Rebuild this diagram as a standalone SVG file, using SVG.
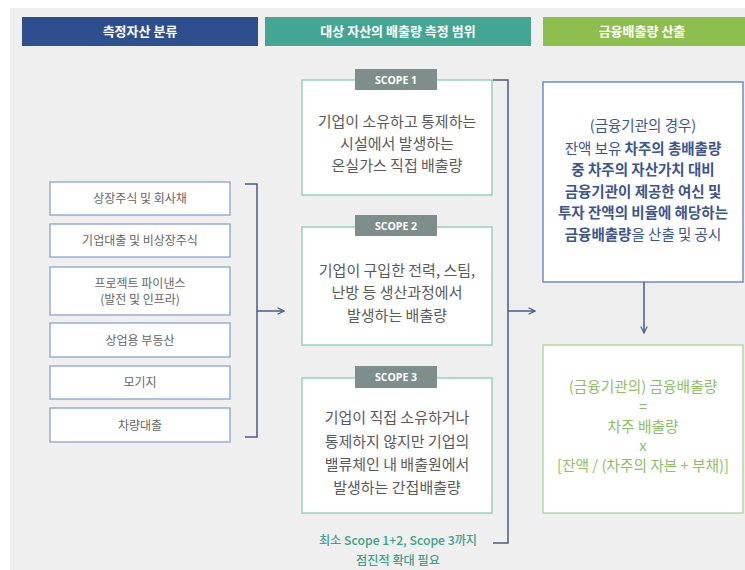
<svg xmlns="http://www.w3.org/2000/svg" width="745" height="570" viewBox="0 0 745 570">
<style>
text{font-family:"Noto Sans CJK KR","Noto Sans",sans-serif;text-anchor:middle}
.hd{fill:#fff;font-size:13px;font-weight:bold}
.lb{fill:#fff;stroke:#7d9ccb;stroke-width:1.2}
.lt{fill:#666;font-size:12px}
.sb{fill:#fff;stroke:#86cbb9;stroke-width:1.3}
.tab{fill:#7e8e8c}
.tt{fill:#fff;font-size:10.5px;font-weight:bold;font-family:"Open Sans","Liberation Sans",sans-serif}
.st{fill:#5a5a5a;font-size:15px}
.rt{fill:#3a5590;font-size:14.5px;font-weight:bold}
.nw{font-weight:normal}
.gt{fill:#8cc063;font-size:14.7px}
.ft{fill:#3fa08c;font-size:12.2px;font-weight:500}
.cn{fill:none;stroke:#4c5a88;stroke-width:1.5}
</style>
<defs>
<marker id="ah" viewBox="0 0 10 10" refX="9" refY="5" markerWidth="8" markerHeight="8" orient="auto" markerUnits="userSpaceOnUse">
<path d="M1,1 L9,5 L1,9" fill="none" stroke="#4c5a88" stroke-width="1.5"/>
</marker>
</defs>
<rect x="0" y="0" width="745" height="570" fill="#fff"/>
<rect x="10" y="8" width="735" height="562" fill="#efefef"/>

<g id="h1"><rect x="22" y="17" width="236" height="29" fill="#2e4f8e"/><text class="hd" x="140" y="36">측정자산 분류</text></g>
<g id="h2"><rect x="265" y="17" width="266" height="29" fill="#45a593"/><text class="hd" x="398" y="36">대상 자산의 배출량 측정 범위</text></g>
<g id="h3"><rect x="543" y="17" width="202" height="29" fill="#8dbf4f"/><text class="hd" x="642" y="36">금융배출량 산출</text></g>

<g id="a1"><rect class="lb" x="50" y="182" width="180" height="33"/><text class="lt" x="140" y="203">상장주식 및 회사채</text></g>
<g id="a2"><rect class="lb" x="50" y="224" width="180" height="33"/><text class="lt" x="140" y="245">기업대출 및 비상장주식</text></g>
<g id="a3"><rect class="lb" x="50" y="267" width="180" height="48"/><text class="lt" x="140" y="288">프로젝트 파이낸스</text><text class="lt" x="140" y="304">(발전 및 인프라)</text></g>
<g id="a4"><rect class="lb" x="50" y="323" width="180" height="34"/><text class="lt" x="140" y="345">상업용 부동산</text></g>
<g id="a5"><rect class="lb" x="50" y="366" width="180" height="33"/><text class="lt" x="140" y="387">모기지</text></g>
<g id="a6"><rect class="lb" x="50" y="408" width="180" height="34"/><text class="lt" x="140" y="430">차량대출</text></g>

<g id="s1"><rect class="sb" x="302" y="80" width="190" height="115"/><rect class="tab" x="355" y="69" width="82" height="21"/><text class="tt" x="396" y="83.5">SCOPE 1</text>
<text class="st" x="397" y="127">기업이 소유하고 통제하는</text><text class="st" x="397" y="149">시설에서 발생하는</text><text class="st" x="397" y="171">온실가스 직접 배출량</text></g>
<g id="s2"><rect class="sb" x="302" y="227" width="190" height="118"/><rect class="tab" x="355" y="215" width="82" height="21"/><text class="tt" x="396" y="229.5">SCOPE 2</text>
<text class="st" x="397" y="276">기업이 구입한 전력, 스팀,</text><text class="st" x="397" y="298">난방 등 생산과정에서</text><text class="st" x="397" y="321">발생하는 배출량</text></g>
<g id="s3"><rect class="sb" x="302" y="378" width="190" height="135"/><rect class="tab" x="355" y="366" width="82" height="22"/><text class="tt" x="396" y="381">SCOPE 3</text>
<text class="st" x="397" y="423">기업이 직접 소유하거나</text><text class="st" x="397" y="447">통제하지 않지만 기업의</text><text class="st" x="397" y="470">밸류체인 내 배출원에서</text><text class="st" x="397" y="493">발생하는 간접배출량</text></g>
<g id="note"><text class="ft" x="398" y="545">최소 Scope 1+2, Scope 3까지</text><text class="ft" x="398" y="565">점진적 확대 필요</text></g>

<g id="r1"><rect x="543" y="82" width="200" height="200" fill="#fff" stroke="#5b7cbc" stroke-width="1.3"/>
<text class="rt nw" x="643" y="131">(금융기관의 경우)</text>
<text class="rt" x="643" y="154"><tspan class="nw">잔액 보유 </tspan>차주의 총배출량</text>
<text class="rt" x="643" y="175">중 차주의 자산가치 대비</text>
<text class="rt" x="643" y="197">금융기관이 제공한 여신 및</text>
<text class="rt" x="643" y="218">투자 잔액의 비율에 해당하는</text>
<text class="rt" x="643" y="240">금융배출량<tspan class="nw">을 산출 및 공시</tspan></text></g>
<g id="r2"><rect x="543" y="345" width="200" height="168" fill="#fff" stroke="#acd492" stroke-width="1.3"/>
<text class="gt" x="643" y="392">(금융기관의) 금융배출량</text>
<text class="gt" x="643" y="412">=</text>
<text class="gt" x="643" y="432">차주 배출량</text>
<text class="gt" x="643" y="451">x</text>
<text class="gt" x="643" y="471">[잔액 / (차주의 자본 + 부채)]</text></g>

<g id="connectors">
<path class="cn" d="M245,184 H257 V437 H245"/>
<path class="cn" d="M257,311 H284" marker-end="url(#ah)"/>
<path class="cn" d="M493,80 H508 V543 H493"/>
<path class="cn" d="M508,311 H535" marker-end="url(#ah)"/>
<path class="cn" d="M644,282 V333" marker-end="url(#ah)"/>
</g>
</svg>
